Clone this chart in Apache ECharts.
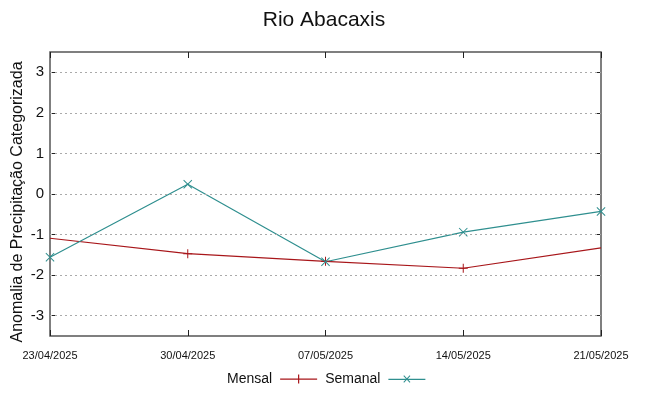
<!DOCTYPE html>
<html><head><meta charset="utf-8">
<script src="https://cdn.jsdelivr.net/npm/echarts@6/dist/echarts.min.js"></script>
<style>html,body{margin:0;padding:0;background:#fff}#c{width:648px;height:396px}</style>
</head><body><div id="c"></div>
<script>
const categories = ['23/04/2025','30/04/2025','07/05/2025','14/05/2025','21/05/2025'];
const mensal = [-1.09, -1.47, -1.66, -1.83, -1.33];
const semanal = [-1.56, 0.24, -1.67, -0.94, -0.43];
const yTicks = [-3,-2,-1,0,1,2,3];

const plusPath = 'path://M0,4.5h1v0H0z M4,0h1v9H4z M0,4h9v1H0z';
const crossPath = 'path://M0.7,0L9,8.3L8.3,9L0,0.7z M8.3,0L9,0.7L0.7,9L0,8.3z';
const legPlus = 'path://M0,4h37v1.2H0z M17.9,0h1.2v9h-1.2z';
const legCross = 'path://M0,4h37v1.2H0z M15,1.2L15.7,0.5L22,7.3L21.3,8z M21.3,0.5L22,1.2L15.7,8L15,7.3z';
const red = '#a8161a', teal = '#2f8f8f';
const font = 'Liberation Sans, Arial, sans-serif';

const chart = echarts.init(document.getElementById('c'));
const yAxisBase = {
  type: 'value', min: -3.5, max: 3.5,
  axisLine: {show: false, onZero: false},
  axisTick: {show: true, inside: true, length: 6, customValues: yTicks, lineStyle: {color: '#222', width: 1}},
  splitLine: {show: false}
};
chart.setOption({
  animation: false,
  title: {text: 'Rio Abacaxis', left: 'center', top: 5, textStyle: {fontFamily: font, fontWeight: 'normal', fontSize: 21, color: '#111'}},
  legend: {
    bottom: 5, left: 222, align: 'right', itemGap: 8, itemWidth: 37, itemHeight: 9,
    textStyle: {fontFamily: font, fontSize: 14, color: '#111', padding: [0, 3, 0, 0]},
    data: [{name: 'Mensal', icon: legPlus}, {name: 'Semanal', icon: legCross}]
  },
  grid: {left: 50, right: 47, top: 52, bottom: 60, show: true, borderColor: '#555', borderWidth: 1.5,
         backgroundColor: 'transparent', outerBoundsMode: 'none', containLabel: false},
  xAxis: [
    {type: 'category', data: categories, boundaryGap: false,
     axisLine: {show: false, onZero: false}, axisTick: {show: true, inside: true, length: 6, lineStyle: {color: '#222'}},
     axisLabel: {fontFamily: font, fontSize: 11, color: '#111', margin: 14, interval: 0},
     splitLine: {show: false}},
    {type: 'category', data: categories, boundaryGap: false, position: 'top',
     axisLine: {show: false, onZero: false}, axisTick: {show: true, inside: true, length: 6, lineStyle: {color: '#222'}},
     axisLabel: {show: false}, splitLine: {show: false}}
  ],
  yAxis: [
    Object.assign({}, yAxisBase, {
      name: 'Anomalia de Precipitação Categorizada', nameLocation: 'middle', nameGap: 24, nameRotate: 90,
      nameMoveOverlap: false,
      nameTextStyle: {fontFamily: font, fontSize: 16, color: '#111', padding: [0, 16, 0, 0]},
      axisLabel: {fontFamily: font, fontSize: 15, color: '#111', margin: 6, customValues: yTicks}
    }),
    Object.assign({}, yAxisBase, {position: 'right', axisLabel: {show: false}})
  ],
  series: [
    {name: 'Mensal', type: 'line', color: red, symbol: plusPath, symbolSize: 9, showSymbol: true,
     data: mensal.map((v, i) => (i === 0 || i === mensal.length - 1) ? {value: v, symbol: 'none'} : v),
     lineStyle: {color: red, width: 1.2}, itemStyle: {color: red},
     markLine: {silent: true, symbol: 'none', label: {show: false},
       lineStyle: {color: '#aaa', type: [2, 3], width: 1},
       data: yTicks.map(v => ({yAxis: v}))}},
    {name: 'Semanal', type: 'line', data: semanal, color: teal, symbol: crossPath, symbolSize: 9, showSymbol: true,
     lineStyle: {color: teal, width: 1.2}, itemStyle: {color: teal}}
  ]
});
</script></body></html>
